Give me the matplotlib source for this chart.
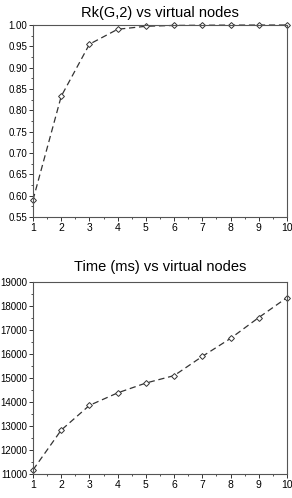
import matplotlib.pyplot as plt
from matplotlib.ticker import MultipleLocator

plt.rcParams['font.family'] = ['Liberation Sans', 'DejaVu Sans']

nodes = [1, 2, 3, 4, 5, 6, 7, 8, 9, 10]
rk_values = [0.59, 0.833, 0.955, 0.99, 0.997, 0.999, 0.9995, 0.9998, 0.9999, 1.0]
time_ms = [11170, 12830, 13860, 14380, 14790, 15100, 15900, 16650, 17520, 18350]


def style_axes(ax):
    for s in ax.spines.values():
        s.set_color('#555555')
        s.set_linewidth(0.8)
    ax.tick_params(which='major', direction='out', length=3, width=0.7,
                   labelsize=7.5, pad=1.5, colors='#333333', labelcolor='black')
    ax.tick_params(axis='y', which='major', labelsize=7, pad=1)
    ax.tick_params(which='minor', direction='out', length=1.5, width=0.6,
                   colors='#333333')
    ax.set_xlim(1, 10)
    ax.xaxis.set_major_locator(MultipleLocator(1))
    ax.xaxis.set_minor_locator(MultipleLocator(0.5))


fig = plt.figure(figsize=(2.92, 4.98), dpi=100)

# top chart
ax1 = fig.add_axes([33 / 292, 1 - 217 / 498, 254 / 292, 192 / 498])
ax1.plot(nodes, rk_values, linestyle=(0, (5, 3)), color='#333333', linewidth=0.9,
         marker='D', markersize=3, markerfacecolor='white', markeredgecolor='#333333',
         markeredgewidth=0.7, clip_on=False)
style_axes(ax1)
ax1.set_ylim(0.55, 1.0)
ax1.yaxis.set_major_locator(MultipleLocator(0.05))
ax1.yaxis.set_minor_locator(MultipleLocator(0.025))
ax1.set_yticklabels([f'{v:.2f}' for v in ax1.get_yticks()])
ax1.set_title('Rk(G,2) vs virtual nodes', fontsize=10.5, pad=6)

# bottom chart
ax2 = fig.add_axes([33 / 292, 1 - 474 / 498, 254 / 292, 192 / 498])
ax2.plot(nodes, time_ms, linestyle=(0, (5, 3)), color='#333333', linewidth=0.9,
         marker='D', markersize=3, markerfacecolor='white', markeredgecolor='#333333',
         markeredgewidth=0.7, clip_on=False)
style_axes(ax2)
ax2.set_ylim(11000, 19000)
ax2.yaxis.set_major_locator(MultipleLocator(1000))
ax2.yaxis.set_minor_locator(MultipleLocator(500))
ax2.set_title('Time (ms) vs virtual nodes', fontsize=10.5, pad=8)

fig.savefig('out.png', dpi=100)
plt.close(fig)
